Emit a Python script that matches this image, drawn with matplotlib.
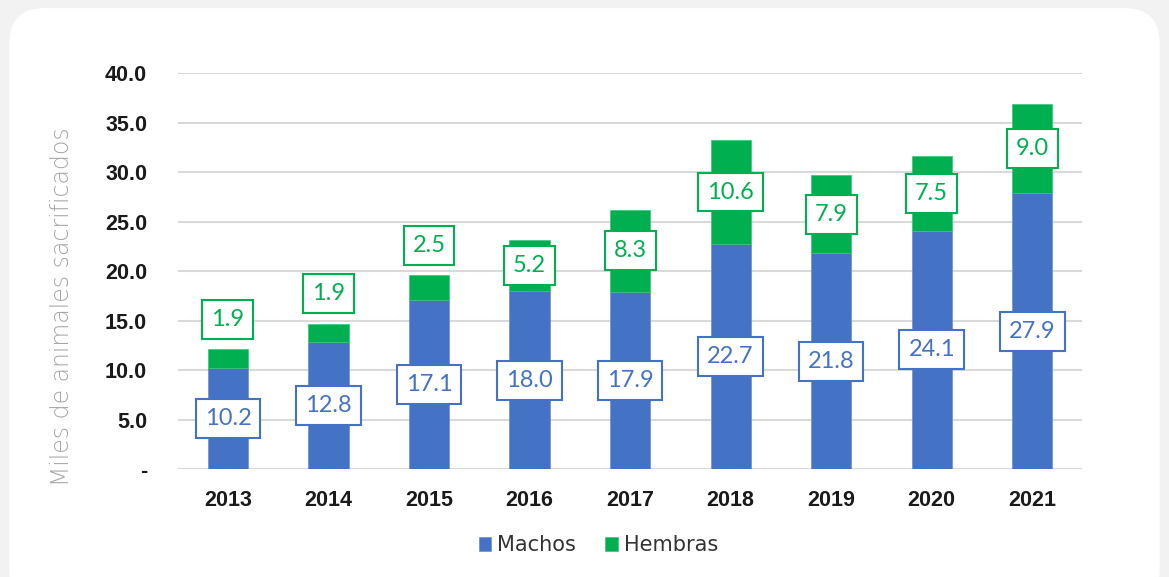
import numpy as np
import matplotlib
matplotlib.use("Agg")
import matplotlib.pyplot as plt
from matplotlib.patches import FancyBboxPatch

# data (miles de animales)
years = ["2013", "2014", "2015", "2016", "2017", "2018", "2019", "2020", "2021"]
machos = [10.2, 12.8, 17.1, 18.0, 17.9, 22.7, 21.8, 24.1, 27.9]
hembras = [1.9, 1.9, 2.5, 5.2, 8.3, 10.6, 7.9, 7.5, 9.0]
yticks = [0, 5, 10, 15, 20, 25, 30, 35, 40]

blue = "#4472C4"
green = "#00B050"

fig = plt.figure(figsize=(11.69, 5.77), dpi=100)
fig.patch.set_facecolor("#F2F2F2")

# white rounded panel
panel = FancyBboxPatch((0.008, -0.05), 0.984, 1.036, boxstyle="round,pad=0,rounding_size=0.03",
                       transform=fig.transFigure, facecolor="white", edgecolor="none",
                       mutation_aspect=1169 / 577, zorder=-5)
fig.patches.append(panel)

ax = fig.add_axes([0.152, 0.187, 0.774, 0.686])
ax.set_facecolor("none")
x = np.arange(len(years))
w = 0.4
ax.bar(x, machos, w, color=blue, label="Machos", zorder=2, edgecolor="#6b8fd4", linewidth=0.5)
ax.bar(x, hembras, w, bottom=machos, color=green, label="Hembras", zorder=2,
       edgecolor="#3cc47a", linewidth=0.5)

ax.set_ylim(0, 40)
ax.set_xlim(-0.5, len(years) - 0.5)
ax.set_yticks(yticks)
ax.set_yticklabels(["-" if t == 0 else f"{t:.1f}" for t in yticks])
ax.set_xticks(x)
ax.set_xticklabels(years)
for lab in ax.get_yticklabels() + ax.get_xticklabels():
    lab.set_fontfamily("Liberation Sans")
    lab.set_fontweight("bold")
    lab.set_fontsize(15.5)
    lab.set_color("#1a1a1a")
ax.tick_params(axis="both", length=0)
ax.tick_params(axis="y", pad=22)
ax.tick_params(axis="x", pad=15)
ax.grid(axis="y", color="#D9D9D9", linewidth=1.5, zorder=0)
for s in ax.spines.values():
    s.set_visible(False)

ax.set_ylabel("Miles de animales sacrificados", fontsize=17, color="#A6A6A6",
              family="DejaVu Sans", fontweight="ultralight")
ax.yaxis.set_label_coords(-0.115, 0.41)

# value labels
for i in range(len(years)):
    ax.text(x[i], machos[i] / 2, f"{machos[i]:.1f}", ha="center", va="center",
            fontsize=17, family="Lato", color=blue, zorder=4,
            bbox=dict(boxstyle="square,pad=0.38", facecolor="white", edgecolor=blue, linewidth=1.5))
    top = machos[i] + hembras[i]
    ly = top + 3.0 if hembras[i] < 3 else machos[i] + hembras[i] / 2
    ax.text(x[i], ly, f"{hembras[i]:.1f}", ha="center", va="center",
            fontsize=17, family="Lato", color=green, zorder=4,
            bbox=dict(boxstyle="square,pad=0.38", facecolor="white", edgecolor=green, linewidth=1.5))

leg = ax.legend(loc="upper center", bbox_to_anchor=(0.465, -0.12), ncol=2, frameon=False,
                prop={"family": "DejaVu Sans", "size": 15}, handlelength=0.6, handleheight=0.6,
                handletextpad=0.3, columnspacing=1.4)
for t in leg.get_texts():
    t.set_color("#333333")

fig.savefig("out.png", dpi=100, facecolor=fig.get_facecolor())
